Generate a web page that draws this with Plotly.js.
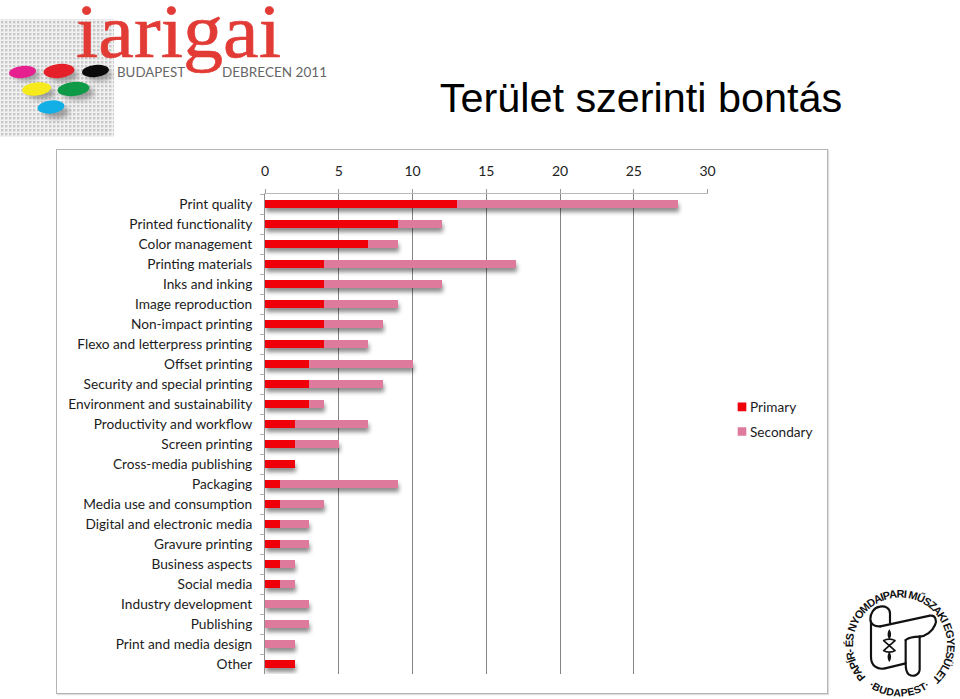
<!DOCTYPE html>
<html><head><meta charset="utf-8">
<script src="https://cdn.plot.ly/plotly-3.0.1.min.js"></script>
<style>
html,body{margin:0;padding:0;background:#fff;width:960px;height:699px;overflow:hidden}
#frame{position:absolute;left:56px;top:149px;width:770px;height:543px;border:1px solid #b4b4b4;box-sizing:content-box;box-shadow:1px 1px 1px #ddd}
#chart{position:absolute;left:0;top:0;width:960px;height:699px}
#deco{position:absolute;left:0;top:0}
.barlayer{filter:drop-shadow(1.5px 4px 2px rgba(0,0,0,.45))}
.legend .legendpoints path{transform:translate(32px,0) scale(.72)}
</style></head><body>
<svg id="deco" width="960" height="699" viewBox="0 0 960 699" xmlns="http://www.w3.org/2000/svg">
<defs>
<pattern id="dots" width="4" height="4" patternUnits="userSpaceOnUse"><rect width="4" height="4" fill="#f1f1f1"/><rect x="1" y="1" width="2.4" height="2.4" fill="#c8c8c8"/></pattern>
<filter id="sh" x="-30%" y="-50%" width="170%" height="250%"><feGaussianBlur stdDeviation="2.5"/></filter>
<path id="ring" d="M 866 677 A 47 47 0 1 1 934 677"/>
<path id="ringb" d="M 868.500 686.500 A 53 53 0 0 0 930.500 686.500"/>
</defs>
<rect x="0" y="19" width="114" height="118" fill="url(#dots)"/>
<g filter="url(#sh)" fill="#777" opacity=".65">
<ellipse cx="27" cy="75" rx="13" ry="6"/><ellipse cx="63" cy="75" rx="15" ry="7"/><ellipse cx="99" cy="75" rx="13" ry="6"/>
<ellipse cx="41" cy="93" rx="14" ry="6.5"/><ellipse cx="78" cy="93" rx="16" ry="7"/><ellipse cx="56" cy="112" rx="13" ry="6.5"/>
</g>
<g>
<ellipse cx="22.500" cy="72" rx="13.500" ry="6" fill="#e6218f" transform="rotate(-6 22.5 72)"/>
<ellipse cx="59" cy="71" rx="15.500" ry="7" fill="#e5202a" transform="rotate(-6 59 71)"/>
<ellipse cx="95.500" cy="71" rx="13.500" ry="6" fill="#0b0b0b" transform="rotate(-6 95.5 71)"/>
<ellipse cx="36.500" cy="89" rx="14.500" ry="6.500" fill="#f6ea1c" transform="rotate(-6 36.5 89)"/>
<ellipse cx="73.500" cy="89" rx="16" ry="7" fill="#0f9a48" transform="rotate(-6 73.5 89)"/>
<ellipse cx="51" cy="107" rx="13.500" ry="6.500" fill="#12aee6" transform="rotate(-6 51 107)"/>
</g>
<text x="76" y="57" font-family="Liberation Serif" font-size="76" fill="#e23b36" stroke="#e23b36" stroke-width=".6" textLength="205" lengthAdjust="spacingAndGlyphs">iarigai</text>
<text x="117" y="77" font-family="Lato" font-size="14" fill="#666" textLength="68" lengthAdjust="spacingAndGlyphs">BUDAPEST</text>
<text x="222" y="77" font-family="Lato" font-size="14" fill="#666" textLength="105" lengthAdjust="spacingAndGlyphs">DEBRECEN 2011</text>
<g transform="translate(835 580) scale(.3333)" fill="none" stroke="#111" stroke-width="6.500" stroke-linejoin="round" stroke-linecap="round">
<path d="M165 128 L165 100 C165 84 150 77 135 80 C116 83 106 100 106 118 C106 132 120 141 136 139"/>
<path d="M108 125 L108 232 C108 258 128 270 150 265 L212 250"/>
<path d="M136 139 L285 107 C302 104 306 122 300 135 C292 155 272 168 254 170"/>
<path d="M254 170 L254 268 C254 284 236 292 222 284 C212 278 212 262 212 250 L212 180"/>
<path d="M254 170 C236 170 222 172 212 180"/>
<path d="M146 182 L180 212 M180 182 L146 212 M146 182 C155 176 171 176 180 182 M146 212 C155 218 171 218 180 212" stroke-width="5"/>
</g>
<g transform="translate(835 580) scale(.3333)" fill="#111">
<path d="M163 148 C170 158 170 170 163 178 C156 170 156 158 163 148Z"/>
<path d="M163 216 C170 224 170 236 163 246 C156 236 156 224 163 216Z"/>
</g>
<text font-family="Liberation Sans Narrow, Liberation Sans" font-size="11" font-weight="bold" fill="#111"><textPath href="#ring" textLength="222" lengthAdjust="spacing">PAPÍR- ÉS NYOMDAIPARI MŰSZAKI EGYESÜLET</textPath></text>
<text font-family="Liberation Sans Narrow, Liberation Sans" font-size="10.500" font-weight="bold" fill="#111"><textPath href="#ringb" textLength="66" lengthAdjust="spacing">·BUDAPEST·</textPath></text>
</svg>
<div id="frame"></div>
<div id="chart"></div>
<script>
const categories = ["Print quality","Printed functionality","Color management","Printing materials","Inks and inking","Image reproduction","Non-impact printing","Flexo and letterpress printing","Offset printing","Security and special printing","Environment and sustainability","Productivity and workflow","Screen printing","Cross-media publishing","Packaging","Media use and consumption","Digital and electronic media","Gravure printing","Business aspects","Social media","Industry development","Publishing","Print and media design","Other"];
const primary =   [13,9,7,4,4,4,4,4,3,3,3,2,2,2,1,1,1,1,1,1,0,0,0,2];
const secondary = [15,3,2,13,8,5,4,3,7,5,1,5,3,0,8,3,2,2,1,1,3,3,2,0];
const W=960,H=699;
const font="Lato, 'Open Sans', sans-serif";
const traces=[
 {type:'bar',orientation:'h',name:'Primary',legendgroup:'p',y:categories,x:primary,marker:{color:'#f00008'},hoverinfo:'x+y+name'},
 {type:'bar',orientation:'h',name:'Secondary',legendgroup:'s',y:categories,x:secondary,marker:{color:'#de7a9c'},hoverinfo:'x+y+name'}
];
const layout={
 width:W,height:H,margin:{l:0,r:0,t:0,b:0,pad:0},
 paper_bgcolor:'rgba(0,0,0,0)',plot_bgcolor:'rgba(0,0,0,0)',
 barmode:'stack',bargap:0.58,showlegend:true,
 font:{family:font,color:'#222',size:14},
 title:{text:'Terület szerinti bontás',font:{family:'Liberation Sans, Arial, sans-serif',size:41.4,color:'#000'},x:641/W,xanchor:'center',y:1-98/H,yanchor:'middle'},
 xaxis:{side:'top',anchor:'y',domain:[265/W,708/W],range:[0,30.03],tickvals:[0,5,10,15,20,25,30],ticktext:['0','5','10','15','20','25','30'],
   showgrid:true,gridcolor:'#858585',gridwidth:1,zeroline:false,showline:true,linecolor:'#b8b8b8',linewidth:1,ticks:'outside',ticklen:4,tickcolor:'#999',ticklabelstandoff:7,tickfont:{size:14,color:'#222',family:font},automargin:false},
 yaxis:{domain:[1-674/H,1-194/H],autorange:false,range:[23.5,-0.5],type:'category',categoryorder:'array',categoryarray:categories,tickson:'boundaries',ticks:'outside',ticklen:4,tickcolor:'#b0b0b0',showline:true,linecolor:'#8f8f8f',linewidth:1,showgrid:false,zeroline:false,tickfont:{size:13.7,color:'#1c1c1c',family:font},ticklabelstandoff:9,automargin:false},
 legend:{x:721.5/W,xanchor:'left',y:1-419.5/H,yanchor:'middle',font:{size:13.6,color:'#1c1c1c',family:font},tracegroupgap:4,itemwidth:30,indentation:-11.5,bgcolor:'rgba(0,0,0,0)',traceorder:'grouped'}
};
Plotly.newPlot('chart',traces,layout,{displayModeBar:false,staticPlot:true});
</script>
</body></html>
